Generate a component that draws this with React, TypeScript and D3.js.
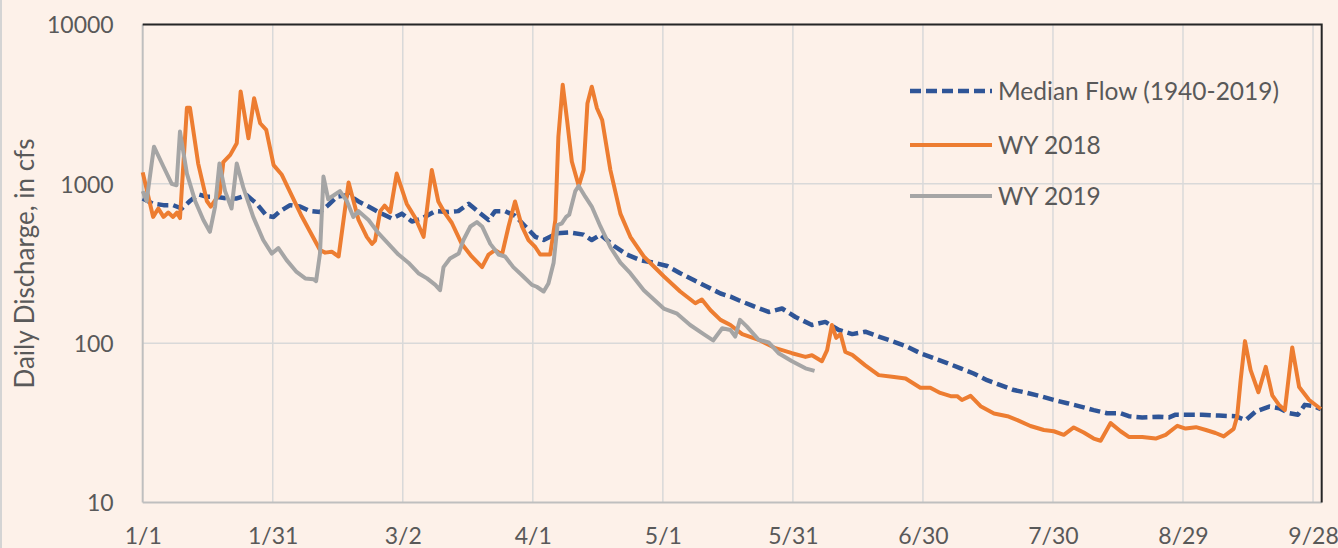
import { useEffect, useRef } from 'react';
import * as d3 from 'd3';

// ─── Datos: días desde 1/1 y caudal diario (cfs) ─────────────────────────────
const tickDays = [0, 30, 60, 90, 120, 150, 180, 210, 240, 270];
const tickLabels = ['1/1', '1/31', '3/2', '4/1', '5/1', '5/31', '6/30', '7/30', '8/29', '9/28'];
const yTicks = [10, 100, 1000, 10000];
const lastDay = 272; // 9/30

const seriesNames = ['Median Flow (1940-2019)', 'WY 2018', 'WY 2019'];

const median: [number, number][] = [
  [0, 810], [2.4, 750], [4.8, 735], [7, 735], [9, 700], [10.9, 780], [12.8, 860], [14.8, 830],
  [16.8, 830], [19.4, 810], [21.7, 810], [24, 850], [26.3, 750], [28.6, 630], [30.2, 620],
  [31.7, 674], [34, 735], [36.3, 720], [38.6, 674], [40.9, 665], [42.8, 735], [44.8, 830],
  [47.5, 850], [49.8, 775], [52.1, 720], [54.4, 665], [57.5, 605], [59.8, 650], [62.1, 580],
  [64.4, 605], [67.5, 674], [70.5, 665], [72.8, 674], [75.2, 750], [77.5, 665], [79.8, 593],
  [81.3, 674], [83.6, 674], [85.9, 630], [88.3, 540], [90.6, 465], [92.5, 444], [95.6, 490],
  [98.6, 495], [101.7, 480], [103.6, 444], [105.6, 480], [108.6, 410], [111.7, 360],
  [114.8, 332], [117.9, 320], [121, 305], [124, 275], [127.1, 249], [130.2, 226], [133.3, 205],
  [135.6, 196], [137.5, 186], [140.6, 172], [144.4, 157], [147.5, 165], [150.6, 146],
  [154.4, 130], [157.5, 136], [160.6, 121], [163.7, 114], [166.7, 118], [169.8, 110],
  [172.9, 103], [176, 96], [179.4, 86.5], [182.5, 80.5], [185.6, 75], [188.7, 69.5],
  [191.7, 64.5], [194.8, 58.6], [197.9, 54.5], [201, 50.8], [204.1, 48.7], [207.1, 46.5],
  [210.2, 44], [213.3, 42], [216.4, 40], [219.4, 38], [222.5, 36.3], [225.6, 36.3],
  [227.5, 34.8], [230.6, 34.2], [234.4, 34.5], [236.8, 34.2], [238.3, 35.6], [240.6, 35.5],
  [244.4, 35.5], [248.3, 35.1], [252.1, 34.8], [254.5, 32.9], [256.8, 37.3], [259.9, 40],
  [262.2, 39], [264.6, 36.3], [266.5, 35.5], [268.1, 41], [270, 40.3], [271.8, 38.6],
];

const wy2018: [number, number][] = [
  [0, 1180], [2.4, 620], [3.6, 700], [4.8, 620], [5.9, 660], [7, 620], [7.9, 660], [8.6, 610],
  [10.2, 3000], [10.9, 3000], [12.8, 1340], [14.8, 780], [15.7, 720], [17.8, 870], [18.6, 1370],
  [20.2, 1520], [21.7, 1800], [22.6, 3800], [24.4, 1930], [25.7, 3440], [27.1, 2400],
  [28.5, 2180], [30.2, 1310], [32.1, 1140], [36.5, 640], [40.9, 384], [42.1, 370], [43.6, 375],
  [45.2, 350], [47.5, 1020], [49.8, 593], [51.7, 465], [52.9, 420], [53.6, 440], [54.8, 674],
  [55.8, 730], [57.1, 665], [58.6, 1160], [60.9, 750], [62.9, 610], [64.8, 465], [66.7, 1220],
  [68.2, 775], [69.8, 650], [71.3, 570], [73.6, 420], [75.9, 350], [78.3, 300], [79.8, 360],
  [81.3, 384], [82.9, 360], [84.4, 540], [85.9, 775], [87.5, 540], [89, 444], [90.6, 400],
  [91.7, 360], [94, 360], [95.2, 593], [95.9, 1970], [96.9, 4180], [97.9, 2515], [99, 1380],
  [100.6, 970], [101.7, 1220], [102.6, 3190], [103.6, 4070], [104.8, 2980], [106, 2515],
  [107.9, 1220], [110.2, 650], [112.5, 465], [115.6, 350], [120.2, 263], [124, 211],
  [127.5, 178], [129, 188], [131, 161], [133.3, 140], [135.6, 130], [138.3, 114], [142.1, 105],
  [146, 93], [149.8, 86.5], [152.9, 82], [154.4, 84], [156.7, 77], [157.9, 90.5], [159, 130],
  [160, 108], [161, 114], [162.1, 88], [163.7, 84.5], [166.7, 72.6], [169.8, 63], [172.9, 61.5],
  [176, 60], [179.4, 52.5], [181.7, 52.5], [184, 48.7], [186.4, 46.5], [187.9, 46.5], [189, 44],
  [191, 46.7], [193.3, 40.2], [196.4, 36.2], [199.5, 34.8], [201.8, 32.9], [204.8, 30.2],
  [207.9, 28.5], [210.2, 28], [212.5, 26.6], [214.8, 29.6], [217.1, 27.5], [219.4, 25.2],
  [221, 24.4], [223.3, 31.5], [225.6, 28], [227.5, 25.8], [230.6, 25.8], [233.7, 25.2],
  [236, 26.6], [238.7, 30.3], [240.6, 29.1], [243, 29.7], [245.3, 28.5], [247.5, 27.3],
  [249.4, 26], [251.7, 29], [252.5, 34.8], [253.3, 58.6], [254.3, 103], [255.6, 67.8],
  [257.4, 49.2], [259.1, 71], [260.6, 47], [262.1, 41.1], [263.5, 38], [265.2, 94], [266.8, 53],
  [269.1, 44], [271.8, 38.6],
];

const wy2019: [number, number][] = [
  [0, 900], [0.9, 780], [2.6, 1710], [4.8, 1280], [6.7, 1000], [7.8, 980], [8.6, 2130],
  [10.2, 1160], [12.1, 780], [14, 593], [15.5, 500], [16.7, 720], [17.7, 1340], [19, 900],
  [20.5, 700], [21.7, 1340], [23.2, 950], [25.5, 620], [27.8, 444], [29.8, 365], [31.3, 395],
  [33.2, 332], [35.5, 280], [37.5, 255], [39.4, 252], [40, 245], [40.9, 365], [41.7, 1110],
  [42.8, 800], [43.6, 830], [45.5, 900], [47.1, 780], [48.6, 620], [49.8, 674], [52.1, 593],
  [54.4, 490], [56.7, 420], [59, 360], [61.3, 320], [63.6, 275], [65.6, 255], [67.5, 232],
  [68.6, 215], [69.4, 300], [70.9, 340], [72.9, 365], [74, 444], [75.6, 540], [77.1, 575],
  [78.3, 540], [80.2, 420], [82.1, 360], [83.6, 350], [85.5, 300], [87.5, 267], [89.8, 232],
  [90.9, 226], [92.5, 211], [93.6, 237], [94.8, 320], [95.7, 550], [96.7, 565], [97.7, 620],
  [98.4, 640], [99.8, 900], [100.6, 970], [102.1, 830], [103.6, 720], [105.6, 540],
  [107.9, 400], [110.2, 320], [112.5, 275], [115.6, 215], [120.2, 165], [123.3, 153],
  [126.3, 130], [129.4, 114], [131.6, 104], [133.7, 124], [135.6, 121], [136.7, 110],
  [137.8, 140], [139.4, 127], [142.1, 105], [144.4, 101], [146.7, 86.5], [149.8, 77],
  [152.9, 69.5], [155, 67],
];

// ─── Estilos ─────────────────────────────────────────────────────────────────
const BG = '#fdf1e9';
const GRID = '#d9d9d9';
const AXIS = '#bfbfbf';
const TEXT = '#595959';
const FONT = 'Lato, "Noto Sans", sans-serif';

export default function App() {
  const svgRef = useRef<SVGSVGElement>(null);

  useEffect(() => {
    if (!svgRef.current) return;

    const W = 1338;
    const H = 548;
    const x0 = 142.7, x1 = 1321.7;
    const yTop = 24.5, yBot = 502.5;

    const svg = d3.select(svgRef.current);
    svg.selectAll('*').remove();
    svg.attr('width', W).attr('height', H);

    const x = d3.scaleLinear().domain([0, lastDay]).range([x0, x1]);
    const y = d3.scaleLog().domain([10, 10000]).range([yBot, yTop]);

    svg.append('rect').attr('width', W).attr('height', H).attr('fill', BG);
    svg.append('line')
      .attr('x1', 1).attr('x2', 1).attr('y1', 0).attr('y2', H)
      .attr('stroke', '#d4d4d4').attr('stroke-width', 2);

    // ── Rejilla ────────────────────────────────────────────────────────────
    svg.append('g')
      .selectAll('line')
      .data(tickDays.slice(1))
      .join('line')
      .attr('x1', d => x(d)).attr('x2', d => x(d))
      .attr('y1', yTop).attr('y2', yBot)
      .attr('stroke', GRID).attr('stroke-width', 1.5);

    svg.append('g')
      .selectAll('line')
      .data(yTicks.slice(1))
      .join('line')
      .attr('x1', x0).attr('x2', x1)
      .attr('y1', d => y(d)).attr('y2', d => y(d))
      .attr('stroke', GRID).attr('stroke-width', 1.5);

    // ── Ejes ───────────────────────────────────────────────────────────────
    const xAxis = svg.append('g')
      .attr('transform', `translate(0,${yBot})`)
      .call(d3.axisBottom(x).tickValues(tickDays).tickSize(0)
        .tickFormat((_, i) => tickLabels[i]));
    xAxis.select('.domain').remove();
    xAxis.selectAll('text')
      .attr('y', 41).attr('dy', null)
      .attr('fill', TEXT).attr('font-size', 23).attr('font-family', FONT);

    const yAxis = svg.append('g')
      .attr('transform', `translate(${x0},0)`)
      .call(d3.axisLeft(y).tickValues(yTicks).tickSize(0).tickFormat(d3.format('d')));
    yAxis.select('.domain').remove();
    yAxis.selectAll('text')
      .attr('x', -29).attr('dy', '0.36em')
      .attr('fill', TEXT).attr('font-size', 23).attr('font-family', FONT);

    svg.append('line')
      .attr('x1', x0).attr('x2', x0).attr('y1', yTop).attr('y2', yBot)
      .attr('stroke', AXIS).attr('stroke-width', 2);
    svg.append('line')
      .attr('x1', x0).attr('x2', x1).attr('y1', yBot).attr('y2', yBot)
      .attr('stroke', AXIS).attr('stroke-width', 2);
    // borde superior y derecho del área de trazado
    svg.append('path')
      .attr('d', `M${x0},${yTop}H${x1}V${yBot}`)
      .attr('fill', 'none').attr('stroke', '#262626').attr('stroke-width', 2);

    // Título eje Y
    svg.append('text')
      .attr('transform', `translate(34,${(yTop + yBot) / 2}) rotate(-90)`)
      .attr('text-anchor', 'middle')
      .attr('fill', TEXT).attr('font-size', 26).attr('font-family', FONT)
      .text('Daily Discharge, in cfs');

    // ── Series ─────────────────────────────────────────────────────────────
    const line = d3.line<[number, number]>()
      .x(d => x(d[0]))
      .y(d => y(d[1]));

    const styles = [
      { data: median, color: '#2f5597', width: 4.5, dash: '11 5' },
      { data: wy2018, color: '#ed7d31', width: 4, dash: null },
      { data: wy2019, color: '#a5a5a5', width: 4, dash: null },
    ];

    styles.forEach(s => {
      svg.append('path')
        .datum(s.data)
        .attr('fill', 'none')
        .attr('stroke', s.color)
        .attr('stroke-width', s.width)
        .attr('stroke-linejoin', 'round')
        .attr('stroke-dasharray', s.dash)
        .attr('d', line);
    });

    // ── Leyenda ────────────────────────────────────────────────────────────
    const legendY = [91, 145, 196];
    const lg = svg.append('g');
    styles.forEach((s, i) => {
      lg.append('line')
        .attr('x1', 910).attr('x2', 992)
        .attr('y1', legendY[i]).attr('y2', legendY[i])
        .attr('stroke', s.color).attr('stroke-width', s.width)
        .attr('stroke-dasharray', s.dash);
      lg.append('text')
        .attr('x', 998).attr('y', legendY[i]).attr('dy', '0.36em')
        .attr('fill', TEXT).attr('font-size', 24.5).attr('font-family', FONT)
        .text(seriesNames[i]);
    });
  }, []);

  return (
    <svg
      ref={svgRef}
      width={1338}
      height={548}
      style={{ position: 'absolute', left: 0, top: 0, display: 'block' }}
    />
  );
}
